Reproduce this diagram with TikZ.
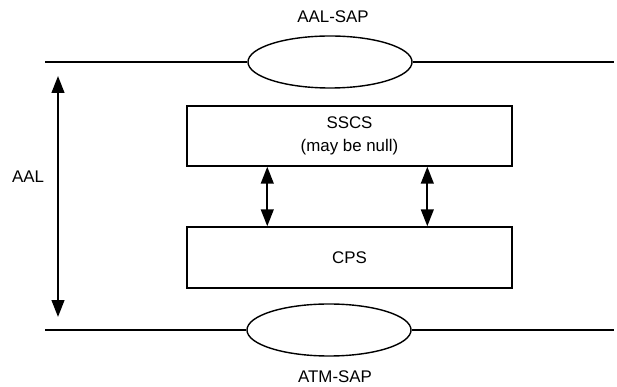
\documentclass[tikz,border=0pt]{standalone}
\usepackage{fontspec}
\setmainfont{Liberation Sans}
\usetikzlibrary{arrows.meta,shapes.geometric}
\tikzstyle{layerbox}=[rectangle,draw,line width=1pt,minimum width=8.125cm,inner sep=0pt,align=center]
\tikzstyle{sap}=[ellipse,draw,line width=1pt,minimum width=4.1cm,minimum height=1.3cm,inner sep=0pt]
\tikzstyle{edge} = [draw,line width=1.4pt,{Triangle[length=12pt,width=9pt]}-{Triangle[length=12pt,width=9pt]}]
\tikzstyle{boundary} = [draw,line width=1pt]
\tikzstyle{txt} = [font=\fontsize{12}{16.3}\selectfont,inner sep=0pt]

\begin{document}
\begin{tikzpicture}[x=0.025cm,y=0.025cm,txt]

    \useasboundingbox (0,0) rectangle (617,387);

    % service access points on the two boundaries
    \foreach \x/\y/\name in {330/325/aalsap, 329/57/atmsap}
        \node[sap] (\name) at (\x,\y) {};

    \coordinate (tl) at (45,325);
    \coordinate (tr) at (614,325);
    \coordinate (bl) at (45,57);
    \coordinate (br) at (614,57);

    \path[boundary] (tl) -- (aalsap.west);
    \path[boundary] (aalsap.east) -- (tr);
    \path[boundary] (bl) -- (atmsap.west);
    \path[boundary] (atmsap.east) -- (br);

    \node (aalsaptxt) at (333,370) {AAL-SAP};
    \node (atmsaptxt) at (335,10) {ATM-SAP};

    % sublayers
    \node[layerbox, minimum height=1.5cm] (sscs) at (349.5,251) {SSCS\\(may be null)};
    \node[layerbox, minimum height=1.525cm] (cps) at (349.5,129.5) {CPS};

    \path[edge] ([xshift=2.025cm]sscs.south west) -- ([xshift=2.025cm]cps.north west);
    \path[edge] ([xshift=6.025cm]sscs.south west) -- ([xshift=6.025cm]cps.north west);

    % extent of the AAL
    \coordinate (aaltop) at (58,311);
    \coordinate (aalbot) at (58,70);
    \path[edge] (aaltop) -- (aalbot);
    \node (aal) at (28,210) {AAL};

\end{tikzpicture}
\end{document}
